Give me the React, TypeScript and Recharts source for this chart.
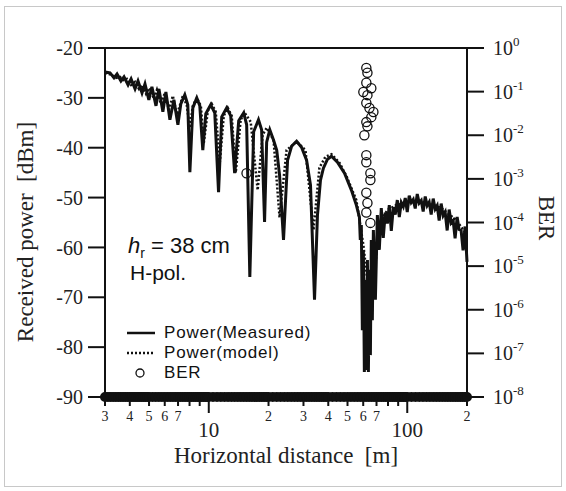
import { ComposedChart, Line, Scatter, XAxis, YAxis, ReferenceLine } from 'recharts'

const serif = '"Liberation Serif", "Times New Roman", serif'
const sans = '"Liberation Sans", Arial, Helvetica, sans-serif'
const ink = '#111'

// measured received power, distance [m] / power [dBm]
const measDist = [
  3.0, 3.18, 3.33, 3.45, 3.61, 3.74, 3.92, 4.06, 4.25, 4.4, 4.61, 4.77, 4.99, 5.17, 5.42, 5.61, 5.87, 6.08,
  6.37, 6.67, 6.99, 7.23, 7.57, 7.84, 8.03, 8.31, 8.7, 9.01, 9.33, 9.66, 10.23, 10.72, 11.2, 11.62, 12.3, 12.9,
  13.5, 14.15, 15.0, 15.52, 16.1, 16.83, 17.8, 18.46, 19.1, 19.57, 20.3, 21.21, 22.0, 22.73, 23.8, 24.95, 26.13,
  27.7, 29.33, 31.1, 32.55, 34.1, 35.29, 36.54, 37.8, 39.63, 41.5, 44.49, 48.3, 52.3, 55.4,
  57.4, 58.0, 58.7, 59.4, 60.1, 60.8, 61.5, 62.2, 63.0, 63.7, 64.5, 65.2, 65.9, 66.7, 67.5, 69.1, 70.7, 72.3,
  74.0, 75.7, 77.5, 79.4, 81.2, 83.1, 85.1, 87.0, 89.1, 91.2, 93.3, 95.5, 97.7, 100, 102.3, 104.7, 107.2,
  109.7, 112.3, 114.9, 117.6, 120.3, 123.2, 126.0, 129.0, 132.0, 135.1, 138.3, 141.5, 144.8, 148.2, 151.7,
  155.2, 158.9, 162.6, 166.4, 170.3, 174.2, 178.4, 182.5, 186.8, 191.1, 195.6, 200,
]
const measPower = [
  -24.8, -25.0, -26.0, -25.2, -26.6, -25.8, -27.4, -26.2, -28.2, -26.6, -29.0, -27.2, -30.4, -27.8, -31.6, -28.2, -32.8, -28.8,
  -34.4, -30.4, -35.4, -31.2, -29.4, -31.4, -44.9, -32.0, -30.0, -31.6, -40.5, -33.2, -31.4, -33.0, -48.9, -33.8, -32.0, -33.6,
  -45.1, -34.6, -33.0, -35.4, -65.9, -36.8, -34.4, -36.4, -54.9, -38.9, -36.4, -38.5, -40.5, -45.5, -58.5, -42.5, -39.7,
  -38.7, -39.9, -42.5, -47.5, -70.5, -53.5, -46.5, -44.1, -42.3, -41.7, -42.9, -45.1, -48.5, -51.5,
  -53.9, -58.5, -55.5, -76.6, -60.5, -85.0, -66.5, -84.6, -62.5, -85.0, -64.5, -81.6, -58.5, -74.6, -56.5, -70.5, -53.5, -60.5,
  -52.1, -58.1, -53.0, -55.2, -51.5, -56.7, -51.9, -53.4, -50.5, -53.9, -51.0, -51.8, -50.1, -52.9, -49.6, -51.0, -50.4,
  -52.2, -49.3, -51.1, -50.6, -52.8, -49.8, -51.6, -50.9, -53.4, -50.2, -52.3, -51.6, -54.6, -51.2, -53.6,
  -52.9, -56.6, -52.4, -55.1, -54.6, -58.2, -53.9, -56.4, -56.6, -60.6, -55.8, -62.9,
]

// two-ray model
const modelDist = [
  3.0, 3.25, 3.41, 3.57, 3.74, 3.87, 4.06, 4.25, 4.45, 4.61, 4.83, 5.05, 5.29, 5.48, 5.74, 6.01, 6.3, 6.59,
  6.91, 7.4, 7.75, 8.03, 8.31, 8.7, 9.12, 9.44, 9.89, 10.35, 10.84, 11.36, 11.9, 12.46, 13.05, 13.67, 14.48,
  15.17, 16.26, 17.63, 18.68, 19.57, 21.21, 22.73, 24.66, 27.7, 30.71, 33.7, 36.1, 38.72, 41.5, 45.53, 49.4,
  55.4, 60.1, 63.7, 65.9, 68.3, 70.7, 74.0, 79.4, 88.0, 104.7, 124.6, 148.2, 176.3, 200,
]
const modelPower = [
  -25.0, -25.4, -26.0, -25.8, -26.6, -26.2, -27.4, -26.8, -28.2, -27.4, -29.2, -28.0, -30.2, -28.4, -31.2, -29.0, -32.4, -29.6,
  -33.4, -29.6, -31.5, -36.0, -31.6, -30.0, -31.6, -39.0, -32.6, -31.2, -32.8, -43.0, -33.6, -32.0, -33.6, -45.0, -34.4,
  -33.0, -34.8, -48.5, -37.4, -36.0, -38.5, -54.0, -40.5, -38.8, -40.5, -56.5, -44.0, -41.8, -41.3, -43.0, -45.7,
  -50.5, -59.5, -68.5, -74.6, -66.5, -58.5, -54.5, -52.5, -51.5, -50.9, -51.1, -52.1, -54.5, -57.5,
]

// BER above the floor
const berDist = [15.5, 62.2, 63.0, 62.2, 60.1, 65.9, 63.0, 62.2, 64.5, 67.5, 65.9, 62.2, 63.0, 60.8, 62.2, 62.2, 65.2, 65.2, 62.2, 63.0, 62.2, 65.2]
const berValue = [
  1.35e-3, 0.35, 0.27, 0.16, 0.098, 0.12, 0.083, 0.055, 0.042, 0.034, 0.026, 0.02, 0.016, 0.01,
  3.5e-3, 2.4e-3, 1.35e-3, 9.4e-4, 4.8e-4, 2.8e-4, 1.7e-4, 9.8e-5,
]

// error-free points, plotted at the 1e-8 floor
const floorDist = [
  3.0, 3.1, 3.2, 3.3, 3.4, 3.5, 3.6, 3.7, 3.8, 3.9, 4.0, 4.1, 4.2, 4.3, 4.4, 4.5, 4.6, 4.7, 4.8, 4.9, 5.0,
  5.2, 5.4, 5.6, 5.8, 6.0, 6.2, 6.4, 6.6, 6.8, 7.0, 7.2, 7.4, 7.6, 7.8, 8.0, 8.2, 8.4, 8.6, 8.8, 9.0, 9.2, 9.4, 9.6, 9.8, 10,
  10.5, 11, 11.5, 12, 12.5, 13, 13.5, 14, 14.5, 15, 15.5, 16, 16.5, 17, 17.5, 18, 18.5, 19, 19.5, 20,
  21, 22, 23, 24, 25, 26, 27, 28, 29, 30, 31, 32, 33, 34, 35, 36, 37, 38, 39, 40,
  42, 44, 46, 48, 50, 52, 54, 56, 58, 60, 62, 64, 66, 68, 70, 72, 74, 76, 78, 80, 82, 84, 86, 88, 90, 92, 94, 96, 98, 100,
  105, 110, 115, 120, 125, 130, 135, 140, 145, 150, 155, 160, 165, 170, 175, 180, 185, 190, 195, 200,
]
const berFloor = 1e-8

const xTicks = [3, 4, 5, 6, 7, 8, 9, 10, 20, 30, 40, 50, 60, 70, 80, 90, 100, 200]
const xTickLabels = ['3', '4', '5', '6', '7', '', '', '10', '2', '3', '4', '5', '6', '7', '', '', '100', '2']
const powerTicks = [-90, -80, -70, -60, -50, -40, -30, -20]
const berTicks = [1e-8, 1e-7, 1e-6, 1e-5, 1e-4, 1e-3, 1e-2, 1e-1, 1]
const berTickExp = ['-8', '-7', '-6', '-5', '-4', '-3', '-2', '-1', '0']

const measured = measDist.map((d, i) => ({ d, p: measPower[i] }))
const model = modelDist.map((d, i) => ({ d, p: modelPower[i] }))
const ber = berDist.map((d, i) => ({ d, ber: berValue[i] }))
const floor = floorDist.map((d) => ({ d, ber: berFloor }))

const XTick = (props: any) => {
  const { x, y, payload } = props
  const i = xTicks.indexOf(payload.value)
  const label = xTickLabels[i]
  const major = label === '10' || label === '100'
  return (
    <g>
      <line x1={x} x2={x} y1={y} y2={y + (major ? 16 : 9)} stroke={ink} strokeWidth={2} />
      {label && (
        <text
          x={x}
          y={y + (major ? 40 : 24)}
          textAnchor="middle"
          fontFamily={serif}
          fontSize={major ? 21 : 14}
          fill="#222"
        >
          {label}
        </text>
      )}
    </g>
  )
}

const BerTick = (props: any) => {
  const { x, y, payload } = props
  const exp = berTickExp[berTicks.indexOf(payload.value)]
  return (
    <text x={x} y={y + 7} fontFamily={serif} fontSize={20} fill="#222">
      10
      <tspan dy={-9} fontSize={13}>
        {exp}
      </tspan>
    </text>
  )
}

const ring = (r: number, w: number) => (props: any) =>
  <circle cx={props.cx} cy={props.cy} r={r} fill="none" stroke={ink} strokeWidth={w} />

export default function App() {
  return (
    <div style={{ position: 'absolute', left: 0, top: 0, width: 566, height: 491, background: '#fff' }}>
      <div
        style={{
          position: 'absolute',
          left: 4,
          top: 6,
          width: 556,
          height: 479,
          border: '1px solid #c8c8c8',
        }}
      />
      <div style={{ position: 'absolute', left: 0, top: 0 }}>
        <ComposedChart width={566} height={491} margin={{ top: 48, right: 19, bottom: 34, left: 25 }}>
          <XAxis
            dataKey="d"
            type="number"
            scale="log"
            domain={[3, 200]}
            ticks={xTicks}
            interval={0}
            tick={<XTick />}
            tickLine={false}
            tickSize={0}
            tickMargin={0}
            axisLine={{ stroke: ink, strokeWidth: 2 }}
            height={60}
          />
          <YAxis
            yAxisId="p"
            dataKey="p"
            type="number"
            domain={[-90, -20]}
            ticks={powerTicks}
            interval={0}
            width={80}
            tickSize={17}
            tickMargin={5}
            tickLine={{ stroke: ink, strokeWidth: 2 }}
            axisLine={{ stroke: ink, strokeWidth: 2 }}
            tick={{ fontSize: 20, fontFamily: serif, fill: '#222' }}
          />
          <YAxis
            yAxisId="ber"
            dataKey="ber"
            orientation="right"
            type="number"
            scale="log"
            domain={[1e-8, 1]}
            ticks={berTicks}
            interval={0}
            width={80}
            tickSize={17}
            tickMargin={9}
            tickLine={{ stroke: ink, strokeWidth: 2 }}
            axisLine={{ stroke: ink, strokeWidth: 2 }}
            tick={<BerTick />}
          />
          <ReferenceLine yAxisId="p" y={-20} stroke={ink} strokeWidth={2} />
          <Line
            yAxisId="p"
            data={model}
            dataKey="p"
            type="linear"
            stroke={ink}
            strokeWidth={2.5}
            strokeDasharray="2 2"
            dot={false}
            isAnimationActive={false}
          />
          <Line
            yAxisId="p"
            data={measured}
            dataKey="p"
            type="linear"
            stroke={ink}
            strokeWidth={3}
            dot={false}
            isAnimationActive={false}
          />
          <Scatter yAxisId="ber" data={floor} dataKey="ber" shape={ring(2.6, 4.8)} isAnimationActive={false} />
          <Scatter yAxisId="ber" data={ber} dataKey="ber" shape={ring(4.6, 1.3)} isAnimationActive={false} />
        </ComposedChart>
      </div>
      <svg
        width={566}
        height={491}
        style={{ position: 'absolute', left: 0, top: 0, pointerEvents: 'none' }}
      >
        <text
          transform="translate(25,232) rotate(-90)"
          textAnchor="middle"
          dominantBaseline="central"
          fontFamily={serif}
          fontSize={23}
          fill="#222"
          style={{ whiteSpace: 'pre' }}
        >
          Received power  [dBm]
        </text>
        <text
          transform="translate(546,218) rotate(90)"
          textAnchor="middle"
          dominantBaseline="central"
          fontFamily={serif}
          fontSize={23}
          fill="#222"
        >
          BER
        </text>
        <text x={286} y={463} textAnchor="middle" fontFamily={serif} fontSize={23} fill="#222" style={{ whiteSpace: 'pre' }}>
          Horizontal distance  [m]
        </text>
        <text x={128} y={253} fontFamily={sans} fontSize={22} fill="#111">
          <tspan fontStyle="italic">h</tspan>
          <tspan dy={5} fontSize={14}>r</tspan>
          <tspan dy={-5} style={{ whiteSpace: 'pre' }}> = 38 cm</tspan>
        </text>
        <text x={130} y={280} fontFamily={sans} fontSize={21} fill="#111">
          H-pol.
        </text>
        <line x1={127} x2={155} y1={333} y2={333} stroke={ink} strokeWidth={2.5} />
        <text x={164} y={338} fontFamily={sans} fontSize={17} letterSpacing={0.8} fill="#111">
          Power(Measured)
        </text>
        <line x1={127} x2={155} y1={353} y2={353} stroke={ink} strokeWidth={2.5} strokeDasharray="2 2" />
        <text x={164} y={358} fontFamily={sans} fontSize={17} letterSpacing={0.8} fill="#111">
          Power(model)
        </text>
        <circle cx={140} cy={373} r={4} fill="none" stroke={ink} strokeWidth={1.3} />
        <text x={164} y={378} fontFamily={sans} fontSize={17} letterSpacing={0.8} fill="#111">
          BER
        </text>
      </svg>
    </div>
  )
}
